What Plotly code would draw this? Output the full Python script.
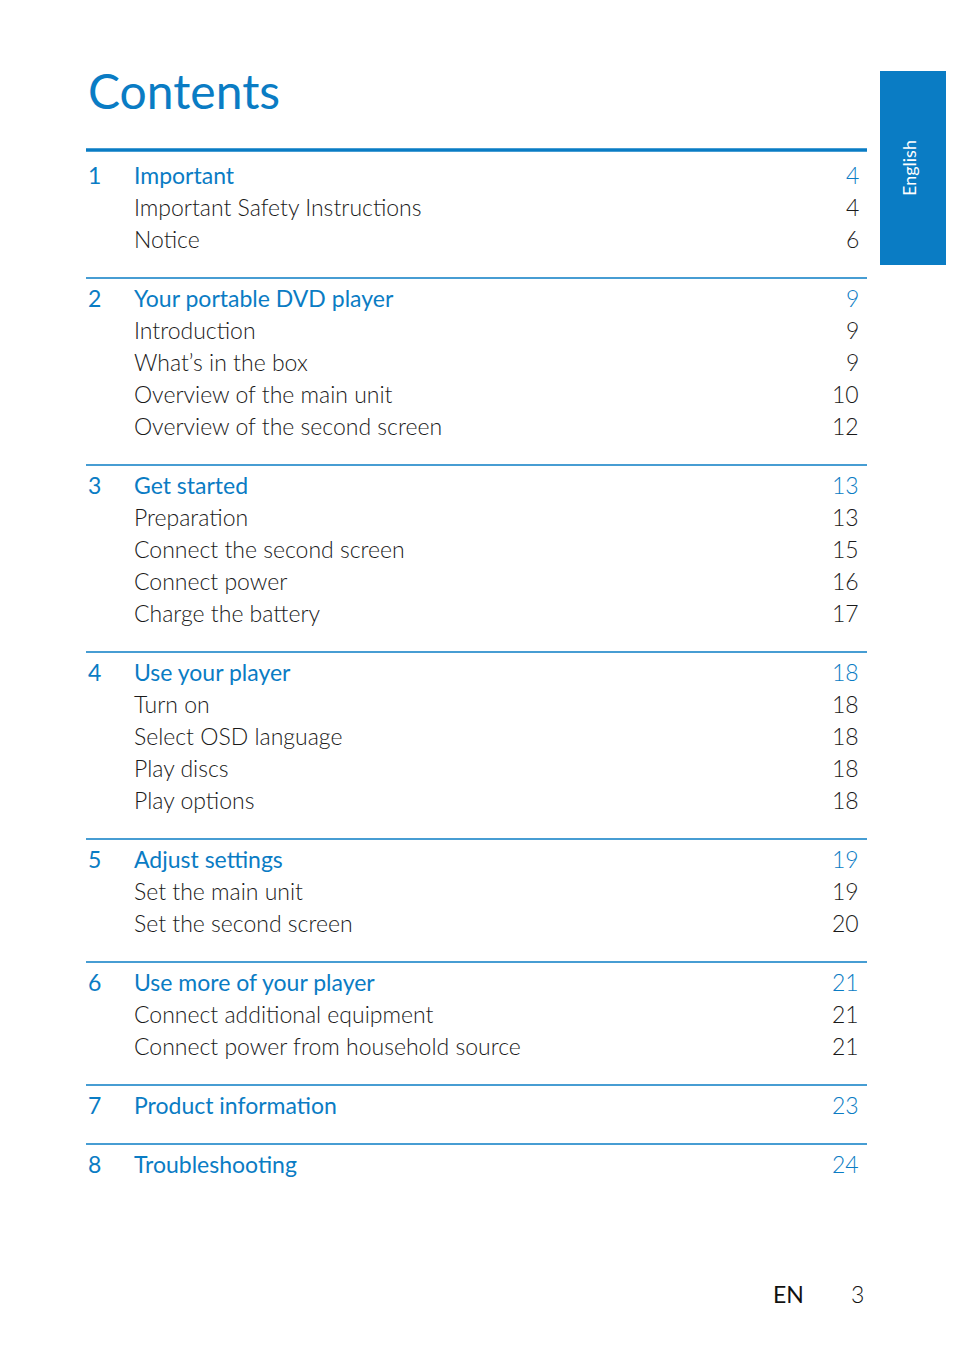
import plotly.graph_objects as go

chapter_numbers = ["1", "2", "3", "4", "5", "6", "7", "8"]
chapter_titles = ["Important", "Your portable DVD player", "Get started", "Use your player",
                  "Adjust settings", "Use more of your player", "Product information", "Troubleshooting"]
chapter_pages = ["4", "9", "13", "18", "19", "21", "23", "24"]
section_titles = [
    ["Important Safety Instructions", "Notice"],
    ["Introduction", "What’s in the box", "Overview of the main unit", "Overview of the second screen"],
    ["Preparation", "Connect the second screen", "Connect power", "Charge the battery"],
    ["Turn on", "Select OSD language", "Play discs", "Play options"],
    ["Set the main unit", "Set the second screen"],
    ["Connect additional equipment", "Connect power from household source"],
    [], [],
]
section_pages = [
    ["4", "6"], ["9", "9", "10", "12"], ["13", "15", "16", "17"],
    ["18", "18", "18", "18"], ["19", "20"], ["21", "21"], [], [],
]

BLUE = "#0a7cc4"
DARK = "#1a1a1a"
FONT = "Lato"
W, H = 954, 1348
OX, OY = 8, 8

fig = go.Figure()
ann = []
shapes = []

def txt(x, y, s, color, size=23, anchor="left", weight=300):
    ann.append(dict(x=x, y=y, xref="x", yref="y", text=s, showarrow=False,
                    xanchor=anchor, yanchor="middle",
                    font=dict(family=FONT, size=size, color=color, weight=weight)))

txt(86, 90, "Contents", BLUE, size=48, weight=400)

line_y = 150
for i, (n, t, p) in enumerate(zip(chapter_numbers, chapter_titles, chapter_pages)):
    shapes.append(dict(type="line", x0=86, x1=867, y0=line_y, y1=line_y, xref="x", yref="y",
                       line=dict(color=BLUE, width=3.5 if i == 0 else 1.5)))
    y = line_y + (25 if i == 0 else 20)
    txt(86, y, n, BLUE, weight=400)
    txt(132, y, t, BLUE, weight=400)
    txt(861, y, p, BLUE, anchor="right")
    for s, sp in zip(section_titles[i], section_pages[i]):
        y += 32
        txt(132, y, s, DARK)
        txt(861, y, sp, DARK, anchor="right")
    line_y = y + 39

shapes.append(dict(type="rect", x0=880, x1=960, y0=71, y1=265, xref="x", yref="y",
                   fillcolor=BLUE, line=dict(width=0)))
ann.append(dict(x=909, y=168, xref="x", yref="y", text="English", showarrow=False,
                textangle=-90, font=dict(family=FONT, size=18, color="white", weight=400)))

txt(806, 1294, "EN", "#111111", size=23, anchor="right", weight=400)
txt(866, 1294, "3", "#111111", size=23, anchor="right")

fig.update_layout(width=W, height=H, margin=dict(l=0, r=0, t=0, b=0),
                  paper_bgcolor="white", plot_bgcolor="white",
                  xaxis=dict(range=[OX, W + OX], visible=False, fixedrange=True),
                  yaxis=dict(range=[H + OY, OY], visible=False, fixedrange=True),
                  annotations=ann, shapes=shapes, showlegend=False)
fig.write_html("out.html")
